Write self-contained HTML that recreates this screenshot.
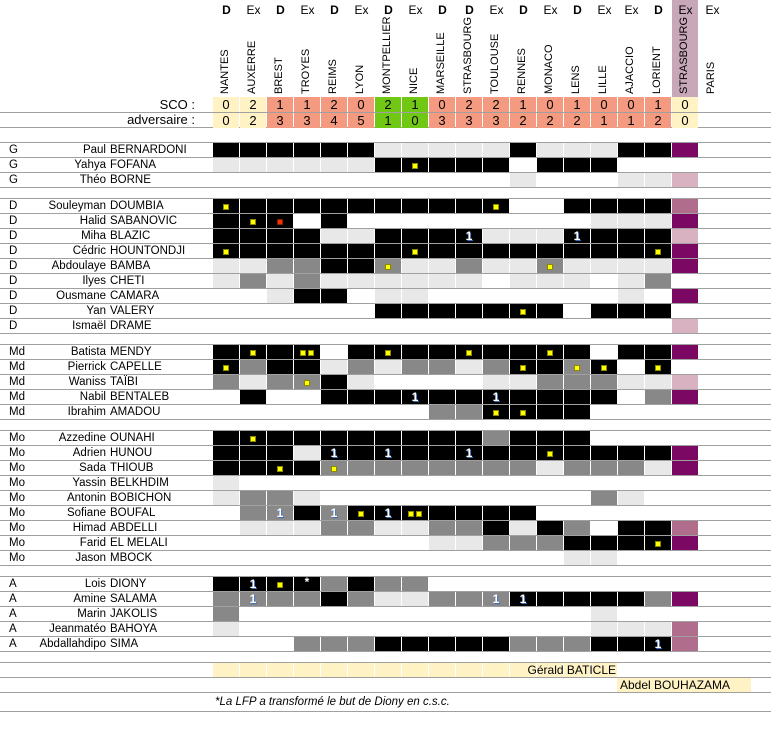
<!DOCTYPE html>
<html><head><meta charset="utf-8">
<style>
body{margin:0;background:#fff;}
#c{position:relative;width:771px;height:736px;overflow:hidden;font-family:"Liberation Sans",sans-serif;color:#000;}
.a{position:absolute;white-space:nowrap;}
.hl{position:absolute;left:0;width:771px;height:1px;background:#a0a0a0;}
.cell{position:absolute;width:26px;}
.dx{position:absolute;top:3px;width:27px;text-align:center;font-size:12px;}
.rn{position:absolute;font-size:11px;transform-origin:0 0;transform:rotate(-90deg);white-space:nowrap;}
.sc{position:absolute;width:26px;height:15px;text-align:center;font-size:13px;line-height:16px;}
.pos{position:absolute;left:9px;font-size:11.5px;margin-top:1px;}
.fn{position:absolute;right:665px;font-size:11.5px;text-align:right;margin-top:1px;}
.ln{position:absolute;left:110px;font-size:11.5px;margin-top:1px;}
.dot{position:absolute;width:4px;height:4px;background:#ffff00;border:1px solid #8a8a00;}
.one{position:absolute;width:26px;text-align:center;color:#fff;font-weight:bold;font-size:12px;text-shadow:1px 1px 0 #3a6cc0;}
</style></head><body>
<div id="c">
<div class="a" style="left:672px;top:0;width:26px;height:97px;background:#c8a8b8"></div>
<div class="dx" style="left:213px;font-weight:bold">D</div>
<div class="dx" style="left:240px">Ex</div>
<div class="dx" style="left:267px;font-weight:bold">D</div>
<div class="dx" style="left:294px">Ex</div>
<div class="dx" style="left:321px;font-weight:bold">D</div>
<div class="dx" style="left:348px">Ex</div>
<div class="dx" style="left:375px;font-weight:bold">D</div>
<div class="dx" style="left:402px">Ex</div>
<div class="dx" style="left:429px;font-weight:bold">D</div>
<div class="dx" style="left:456px;font-weight:bold">D</div>
<div class="dx" style="left:483px">Ex</div>
<div class="dx" style="left:510px;font-weight:bold">D</div>
<div class="dx" style="left:537px">Ex</div>
<div class="dx" style="left:564px;font-weight:bold">D</div>
<div class="dx" style="left:591px">Ex</div>
<div class="dx" style="left:618px">Ex</div>
<div class="dx" style="left:645px;font-weight:bold">D</div>
<div class="dx" style="left:672px">Ex</div>
<div class="dx" style="left:699px">Ex</div>
<div class="rn" style="left:219px;top:94px">NANTES</div>
<div class="rn" style="left:246px;top:94px">AUXERRE</div>
<div class="rn" style="left:273px;top:94px">BREST</div>
<div class="rn" style="left:300px;top:94px">TROYES</div>
<div class="rn" style="left:327px;top:94px">REIMS</div>
<div class="rn" style="left:354px;top:94px">LYON</div>
<div class="rn" style="left:381px;top:94px">MONTPELLIER</div>
<div class="rn" style="left:408px;top:94px">NICE</div>
<div class="rn" style="left:435px;top:94px">MARSEILLE</div>
<div class="rn" style="left:462px;top:94px">STRASBOURG</div>
<div class="rn" style="left:489px;top:94px">TOULOUSE</div>
<div class="rn" style="left:516px;top:94px">RENNES</div>
<div class="rn" style="left:543px;top:94px">MONACO</div>
<div class="rn" style="left:570px;top:94px">LENS</div>
<div class="rn" style="left:597px;top:94px">LILLE</div>
<div class="rn" style="left:624px;top:94px">AJACCIO</div>
<div class="rn" style="left:651px;top:94px">LORIENT</div>
<div class="rn" style="left:678px;top:94px">STRASBOURG</div>
<div class="rn" style="left:705px;top:94px">PARIS</div>

<div class="a" style="right:576px;top:97px;font-size:13px">SCO :</div>
<div class="a" style="right:576px;top:112px;font-size:13px">adversaire :</div>

<div class="pos" style="top:143px">G</div><div class="fn" style="top:143px">Paul</div><div class="ln" style="top:143px">BERNARDONI</div>
<div class="pos" style="top:158px">G</div><div class="fn" style="top:158px">Yahya</div><div class="ln" style="top:158px">FOFANA</div>
<div class="pos" style="top:173px">G</div><div class="fn" style="top:173px">Théo</div><div class="ln" style="top:173px">BORNE</div>

<div class="pos" style="top:199px">D</div><div class="fn" style="top:199px">Souleyman</div><div class="ln" style="top:199px">DOUMBIA</div>
<div class="pos" style="top:214px">D</div><div class="fn" style="top:214px">Halid</div><div class="ln" style="top:214px">SABANOVIC</div>
<div class="pos" style="top:229px">D</div><div class="fn" style="top:229px">Miha</div><div class="ln" style="top:229px">BLAZIC</div>
<div class="pos" style="top:244px">D</div><div class="fn" style="top:244px">Cédric</div><div class="ln" style="top:244px">HOUNTONDJI</div>
<div class="pos" style="top:259px">D</div><div class="fn" style="top:259px">Abdoulaye</div><div class="ln" style="top:259px">BAMBA</div>
<div class="pos" style="top:274px">D</div><div class="fn" style="top:274px">Ilyes</div><div class="ln" style="top:274px">CHETI</div>
<div class="pos" style="top:289px">D</div><div class="fn" style="top:289px">Ousmane</div><div class="ln" style="top:289px">CAMARA</div>
<div class="pos" style="top:304px">D</div><div class="fn" style="top:304px">Yan</div><div class="ln" style="top:304px">VALERY</div>
<div class="pos" style="top:319px">D</div><div class="fn" style="top:319px">Ismaël</div><div class="ln" style="top:319px">DRAME</div>

<div class="pos" style="top:345px">Md</div><div class="fn" style="top:345px">Batista</div><div class="ln" style="top:345px">MENDY</div>
<div class="pos" style="top:360px">Md</div><div class="fn" style="top:360px">Pierrick</div><div class="ln" style="top:360px">CAPELLE</div>
<div class="pos" style="top:375px">Md</div><div class="fn" style="top:375px">Waniss</div><div class="ln" style="top:375px">TAÏBI</div>
<div class="pos" style="top:390px">Md</div><div class="fn" style="top:390px">Nabil</div><div class="ln" style="top:390px">BENTALEB</div>
<div class="pos" style="top:405px">Md</div><div class="fn" style="top:405px">Ibrahim</div><div class="ln" style="top:405px">AMADOU</div>

<div class="pos" style="top:431px">Mo</div><div class="fn" style="top:431px">Azzedine</div><div class="ln" style="top:431px">OUNAHI</div>
<div class="pos" style="top:446px">Mo</div><div class="fn" style="top:446px">Adrien</div><div class="ln" style="top:446px">HUNOU</div>
<div class="pos" style="top:461px">Mo</div><div class="fn" style="top:461px">Sada</div><div class="ln" style="top:461px">THIOUB</div>
<div class="pos" style="top:476px">Mo</div><div class="fn" style="top:476px">Yassin</div><div class="ln" style="top:476px">BELKHDIM</div>
<div class="pos" style="top:491px">Mo</div><div class="fn" style="top:491px">Antonin</div><div class="ln" style="top:491px">BOBICHON</div>
<div class="pos" style="top:506px">Mo</div><div class="fn" style="top:506px">Sofiane</div><div class="ln" style="top:506px">BOUFAL</div>
<div class="pos" style="top:521px">Mo</div><div class="fn" style="top:521px">Himad</div><div class="ln" style="top:521px">ABDELLI</div>
<div class="pos" style="top:536px">Mo</div><div class="fn" style="top:536px">Farid</div><div class="ln" style="top:536px">EL MELALI</div>
<div class="pos" style="top:551px">Mo</div><div class="fn" style="top:551px">Jason</div><div class="ln" style="top:551px">MBOCK</div>

<div class="pos" style="top:577px">A</div><div class="fn" style="top:577px">Lois</div><div class="ln" style="top:577px">DIONY</div>
<div class="pos" style="top:592px">A</div><div class="fn" style="top:592px">Amine</div><div class="ln" style="top:592px">SALAMA</div>
<div class="pos" style="top:607px">A</div><div class="fn" style="top:607px">Marin</div><div class="ln" style="top:607px">JAKOLIS</div>
<div class="pos" style="top:622px">A</div><div class="fn" style="top:622px">Jeanmatéo</div><div class="ln" style="top:622px">BAHOYA</div>
<div class="pos" style="top:637px">A</div><div class="fn" style="top:637px">Abdallahdipo</div><div class="ln" style="top:637px">SIMA</div>

<div class="a" style="left:617px;top:678px;width:134px;height:14px;background:#fff2c4"></div>
<div class="a" style="right:155px;top:663px;font-size:12px;z-index:2">Gérald BATICLE</div>
<div class="a" style="left:620px;top:678px;font-size:12px">Abdel BOUHAZAMA</div>
<div class="a" style="left:215px;top:696px;font-size:11.5px;font-style:italic">*La LFP a transformé le but de Diony en c.s.c.</div>
</div>
<script>
var c=document.getElementById('c');
function add(h){c.insertAdjacentHTML('beforeend',h);}
[111.7,127.3,142.3,651.3,662.3,677.3,692.3,711].forEach(function(y){add('<div class="hl" style="top:'+Math.round(y)+'px"></div>');});
var sco=[0,2,1,1,2,0,2,1,0,2,2,1,0,1,0,0,1,0],adv=[0,2,3,3,4,5,1,0,3,3,3,2,2,2,1,1,2,0];
for(var i=0;i<18;i++){var col=(i<2||i==17)?'#fff2c4':(i==6||i==7)?'#70c814':'#f49a80';
add('<div class="sc" style="left:'+(213+27*i)+'px;top:97px;background:'+col+'">'+sco[i]+'</div>');
add('<div class="sc" style="left:'+(213+27*i)+'px;top:112.5px;background:'+col+'">'+adv[i]+'</div>');}
for(var i=0;i<15;i++)add('<div class="cell" style="left:'+(213+27*i)+'px;top:663px;height:14px;background:#fff2c4"></div>');
var groups=[[142.3,[
'K K K K K K L L L L L K L L L K K P W',
'L L L L L L K Ky K K K W K K K W W W W',
'W W W W W W W W W W W L W W W L L p W']],
[198.3,[
'Ky K K K K K K K K K Ky W W K K K K m W',
'K Ky Kr W K W W W W W W W W W L L L P W',
'K K K K L L K K K K1 L L L K1 K K K p W',
'Ky K K K K K K Ky K K K K K K K K Ky P W',
'L L G G K K Gy L L G L L Gy L L L L P W',
'L G L G L L L L L L W L L L W L G W W',
'W W L K K W L L W W W W W W W L W P W',
'W W W W W W K K K K K Ky K W K K K W W',
'W W W W W W W W W W W W W W W W W p W']],
[344.3,[
'K Ky K Kyy W K Ky K K Ky K K Ky K W K K P W',
'Ky G K K L G L G G L G Ky K Gy Ky W Ky W W',
'G L G Gy K L W W W W L L G G G L L p W',
'W K W W K K K K1 K K K1 K K K K W G P W',
'W W W W W W W W G G Ky Ky K K W W W W W']],
[430.3,[
'K Ky K K K K K K K K G K K K W W W W W',
'K K K L K1 K K1 K K K1 K K Ky K K K K P W',
'K K Ky K Gy G G G G G G G L G G G L P W',
'L W W W W W W W W W W W W W W W W W W',
'L G G L W W W W W W W W W W G L W W W',
'W G G1 K G1 Ky K1 Kyy K K K K W W W W W W W',
'W L L L G G L L G G K L K G W K K m W',
'W W W W W W W W L L G G G K K K Ky P W',
'W W W W W W W W W W W W W L L W W W W']],
[576.3,[
'K K1 Ky K* G K G G W W W W W W W W W W W',
'G G1 G G K G L L G G G1 K1 K K K K G P W',
'G W W W W W W W W W W W W W L W W W W',
'L W W W W W W W W W W W W W L L L m W',
'W W W G G G K K K K K G G G K K K1 m W']]];
var COL={K:'#000',L:'#e8e8e8',G:'#888',W:null,P:'#7b0862',p:'#d8b2c0',m:'#b06e8c'};
groups.forEach(function(g){
 var y0=g[0];
 g[1].forEach(function(r,ri){
  var top=Math.round(y0+ri*15);
  add('<div class="hl" style="top:'+top+'px"></div>');
  r.split(' ').forEach(function(t,ci){
   var x=213+27*ci,b=t[0],m=t.slice(1);
   if(COL[b])add('<div class="cell" style="left:'+x+'px;top:'+(top+1)+'px;height:14px;background:'+COL[b]+'"></div>');
   if(m=='y')add('<div class="dot" style="left:'+(x+10)+'px;top:'+(top+6)+'px"></div>');
   if(m=='yy'){add('<div class="dot" style="left:'+(x+6)+'px;top:'+(top+6)+'px"></div>');add('<div class="dot" style="left:'+(x+14)+'px;top:'+(top+6)+'px"></div>');}
   if(m=='r')add('<div class="dot" style="left:'+(x+10)+'px;top:'+(top+6)+'px;background:#ff3000;border-color:#802000"></div>');
   if(m=='1')add('<div class="one" style="left:'+x+'px;top:'+(top+1)+'px">1</div>');
   if(m=='*')add('<div class="one" style="left:'+x+'px;top:'+(top-1)+'px;text-shadow:none">*</div>');
  });
 });
 add('<div class="hl" style="top:'+Math.round(y0+g[1].length*15)+'px"></div>');
});
</script>
</body></html>
